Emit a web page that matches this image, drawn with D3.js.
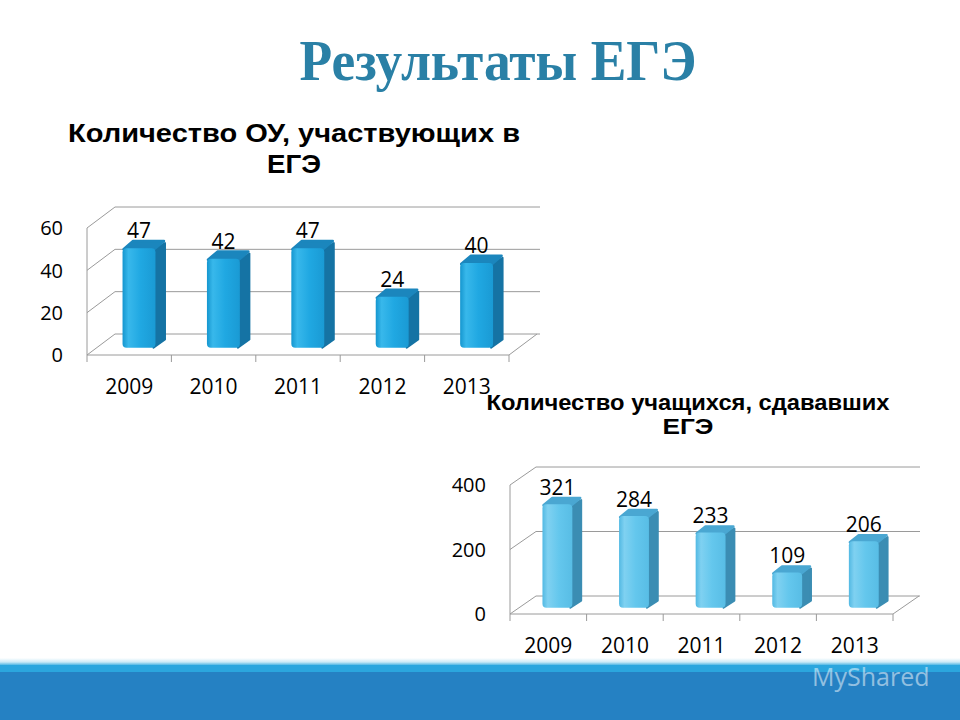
<!DOCTYPE html>
<html>
<head>
<meta charset="utf-8">
<script src="https://cdn.jsdelivr.net/npm/d3@7"></script>
<style>
  html, body { margin: 0; padding: 0; background: #ffffff; }
  svg { display: block; }
</style>
</head>
<body>
<svg id="chart" width="960" height="720"></svg>
<script>
// ---------- DATA ----------
const years = ["2009", "2010", "2011", "2012", "2013"];
const schoolsValues = [47, 42, 47, 24, 40];
const schoolsTicks = [0, 20, 40, 60];
const studentsValues = [321, 284, 233, 109, 206];
const studentsTicks = [0, 200, 400];

const mainTitle = "Результаты ЕГЭ";
const schoolsTitle = ["Количество ОУ, участвующих в", "ЕГЭ"];
const studentsTitle = ["Количество учащихся, сдававших", "ЕГЭ"];

// ---------- SETUP ----------
const svg = d3.select("#chart");
const defs = svg.append("defs");

function gradient(id, stops) {
  const g = defs.append("linearGradient").attr("id", id)
    .attr("x1", "0%").attr("x2", "100%").attr("y1", "0%").attr("y2", "0%");
  stops.forEach(s => g.append("stop").attr("offset", s[0]).attr("stop-color", s[1]));
}
gradient("front1", [["0%", "#1596cf"], ["18%", "#38b8eb"], ["55%", "#20a8e2"], ["100%", "#1a9ad4"]]);
gradient("front2", [["0%", "#52b9e3"], ["18%", "#7fd1f1"], ["55%", "#64c7ed"], ["100%", "#58bde5"]]);

const bandG = defs.append("linearGradient").attr("id", "band")
  .attr("x1", "0").attr("x2", "0").attr("y1", "0").attr("y2", "1");
bandG.append("stop").attr("offset", "0%").attr("stop-color", "#ffffff");
bandG.append("stop").attr("offset", "50%").attr("stop-color", "#cdebf7");
bandG.append("stop").attr("offset", "100%").attr("stop-color", "#2aa7de");

// ---------- BACKGROUND BAND ----------
svg.append("rect").attr("x", 0).attr("y", 658).attr("width", 960).attr("height", 8).attr("fill", "url(#band)");
svg.append("rect").attr("x", 0).attr("y", 665).attr("width", 960).attr("height", 8).attr("fill", "#2ba6de");
svg.append("rect").attr("x", 0).attr("y", 672).attr("width", 960).attr("height", 48).attr("fill", "#2581c3");
svg.append("text").attr("x", 812).attr("y", 686)
  .attr("font-family", "'Open Sans', 'DejaVu Sans', sans-serif").attr("font-size", 25)
  .attr("fill", "#ffffff").attr("fill-opacity", 0.5).text("MyShared");

// ---------- MAIN TITLE ----------
svg.append("text").attr("x", 498).attr("y", 80).attr("text-anchor", "middle")
  .attr("font-family", "'Liberation Serif', 'Times New Roman', serif")
  .attr("font-weight", "bold").attr("font-size", 56)
  .attr("fill", "#2a80a6")
  .attr("textLength", 397).attr("lengthAdjust", "spacingAndGlyphs")
  .text(mainTitle);

// ---------- CHART FUNCTION ----------
function drawChart(cfg) {
  const g = svg.append("g");
  const x = d3.scaleBand().domain(cfg.categories).range([cfg.x0, cfg.x1]);
  const y = d3.scaleLinear().domain([0, cfg.max]).range([cfg.yBase, cfg.yTop]);
  const dx = cfg.dx, dy = cfg.dy;
  const grid = "#9a9a9a";
  const labelFont = "'Open Sans', 'Noto Sans', sans-serif";

  // title
  cfg.title.forEach((t, i) => {
    const tx = g.append("text").attr("x", cfg.titleX).attr("y", cfg.titleY[i])
      .attr("text-anchor", "middle")
      .attr("font-family", "'Liberation Sans', Arial, sans-serif")
      .attr("font-weight", "bold").attr("font-size", cfg.titleSize)
      .attr("fill", "#000").text(t);
    if (cfg.titleLen[i]) tx.attr("textLength", cfg.titleLen[i]).attr("lengthAdjust", "spacingAndGlyphs");
  });

  // walls: gridlines along left wall and back wall
  cfg.ticks.forEach(t => {
    const yy = y(t);
    g.append("path")
      .attr("d", d3.line()([[cfg.x0, yy], [cfg.x0 + dx, yy + dy], [cfg.backRight, yy + dy]]))
      .attr("fill", "none").attr("stroke", grid).attr("stroke-width", 1);
  });
  // front vertical axis
  g.append("line").attr("x1", cfg.x0).attr("x2", cfg.x0)
    .attr("y1", y(0)).attr("y2", y(cfg.max))
    .attr("stroke", grid).attr("stroke-width", 1);
  // floor front edge and right edge
  g.append("path")
    .attr("d", d3.line()([[cfg.x0, y(0)], [cfg.x1, y(0)], [cfg.x1 + dx, y(0) + dy]]))
    .attr("fill", "none").attr("stroke", grid).attr("stroke-width", 1);
  // category tick marks
  const bounds = cfg.categories.map(c => x(c)).concat([cfg.x1]);
  bounds.forEach(bx => {
    g.append("line").attr("x1", bx).attr("x2", bx).attr("y1", y(0)).attr("y2", y(0) + 7)
      .attr("stroke", grid).attr("stroke-width", 1);
  });

  // y tick labels
  cfg.ticks.forEach(t => {
    g.append("text").attr("x", cfg.x0 - 24).attr("y", y(t)).attr("dy", "0.36em")
      .attr("text-anchor", "end")
      .attr("font-family", labelFont).attr("font-size", 20)
      .attr("fill", "#000").text(t);
  });
  // x labels
  cfg.categories.forEach(c => {
    g.append("text").attr("x", x(c) + x.bandwidth() / 2).attr("y", y(0) + 39)
      .attr("text-anchor", "middle")
      .attr("font-family", labelFont).attr("font-size", 21)
      .attr("fill", "#000").text(c);
  });

  // bars
  const f = 0.35;           // depth position of bar front face
  const sd = 0.34;          // bar depth fraction
  const fx = f * dx, fy = f * dy;
  const sdx = sd * dx, sdy = sd * dy;
  const bw = x.bandwidth() * 0.39;
  cfg.values.forEach((v, i) => {
    const c = cfg.categories[i];
    const cx = x(c) + x.bandwidth() / 2 + fx;
    const left = cx - bw / 2, right = cx + bw / 2;
    const top = y(v) + fy, base = y(0) + fy;
    const bg = g.append("g");
    // side face
    bg.append("path")
      .attr("d", d3.line()([[right - 2, top + 2], [right + sdx, top + sdy + 2], [right + sdx, base + sdy - 1], [right - 2, base]]) + "Z")
      .attr("fill", cfg.side).attr("stroke", cfg.side).attr("stroke-width", 2).attr("stroke-linejoin", "round");
    // top face
    bg.append("path")
      .attr("d", d3.line()([[left + 1, top + 1], [left + sdx + 1, top + sdy], [right + sdx - 1, top + sdy], [right - 1, top + 1]]) + "Z")
      .attr("fill", cfg.topc).attr("stroke", cfg.topc).attr("stroke-width", 2.5).attr("stroke-linejoin", "round");
    // front face
    bg.append("rect").attr("x", left).attr("y", top).attr("width", bw).attr("height", base - top)
      .attr("rx", 4).attr("ry", 4).attr("fill", cfg.front);
    // value label
    g.append("text").attr("x", cx).attr("y", top + sdy - 3)
      .attr("text-anchor", "middle")
      .attr("font-family", labelFont).attr("font-size", 21)
      .attr("fill", "#000").text(v);
  });
}

drawChart({
  categories: years, values: schoolsValues, ticks: schoolsTicks, max: 60,
  x0: 87, x1: 509, yBase: 355, yTop: 228, dx: 28, dy: -21, backRight: 540,
  front: "url(#front1)", side: "#1573a4", topc: "#1b86bd",
  title: schoolsTitle, titleX: 294, titleY: [142, 173], titleSize: 26, titleLen: [452, 54]
});

drawChart({
  categories: years, values: studentsValues, ticks: studentsTicks, max: 400,
  x0: 510, x1: 893, yBase: 614, yTop: 485, dx: 26, dy: -18, backRight: 920,
  front: "url(#front2)", side: "#3b8db3", topc: "#4aa7d2",
  title: studentsTitle, titleX: 688, titleY: [410, 434], titleSize: 22, titleLen: [403, 51]
});
</script>
</body>
</html>
